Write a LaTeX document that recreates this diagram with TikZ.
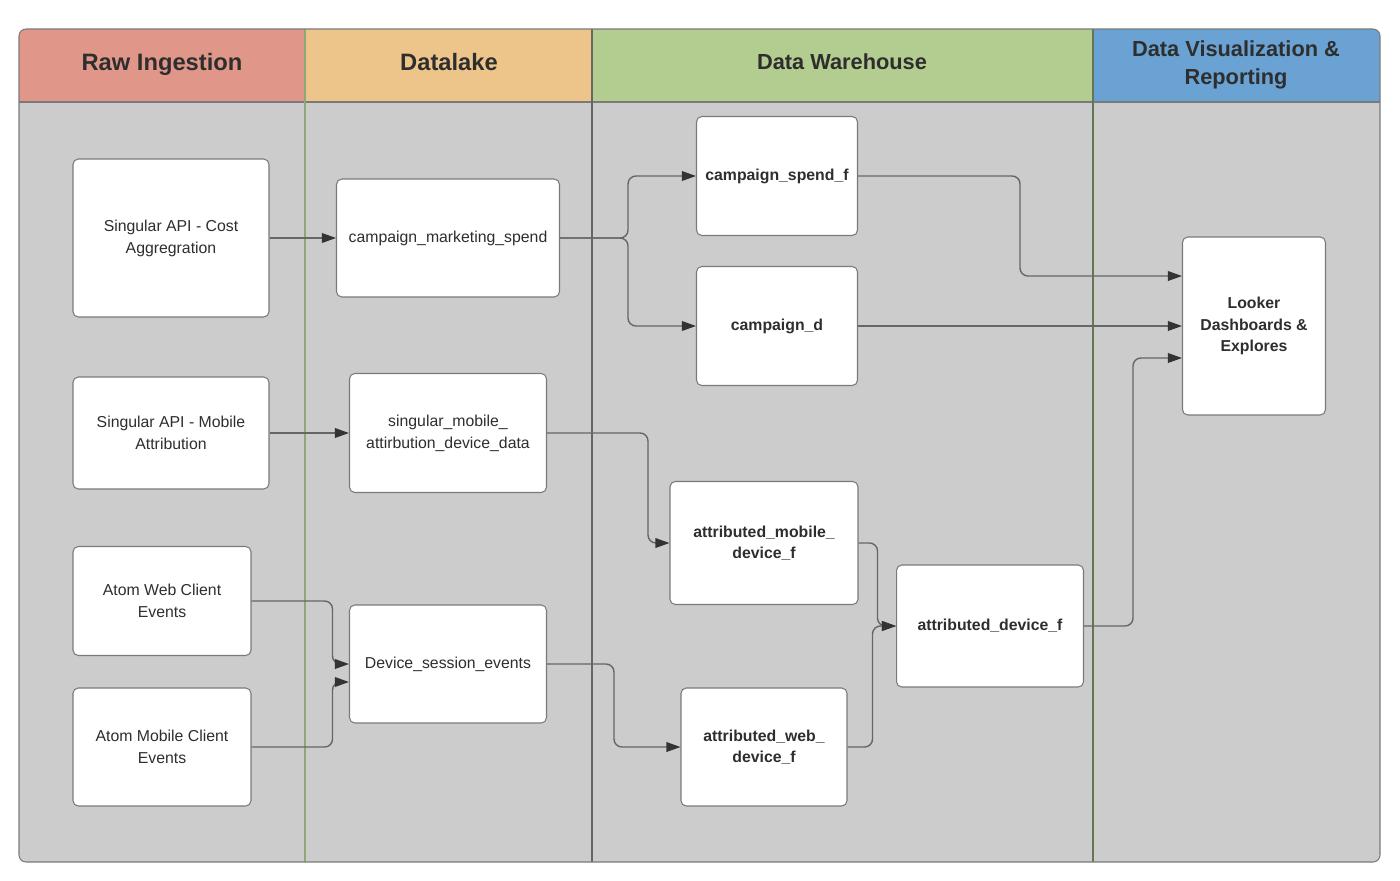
\documentclass[tikz,border=0pt]{standalone}
\usepackage{fontspec}
\setmainfont{Liberation Sans}
\usetikzlibrary{arrows.meta}

\definecolor{rawred}{HTML}{E0978A}
\definecolor{lakeorange}{HTML}{EDC58A}
\definecolor{dwgreen}{HTML}{B3CC90}
\definecolor{visblue}{HTML}{6AA3D3}
\definecolor{lanegray}{HTML}{CCCCCC}
\definecolor{edgegray}{HTML}{666666}
\definecolor{tipdark}{HTML}{333333}
\definecolor{textdark}{HTML}{2E2E2E}
\definecolor{boxline}{HTML}{7A7A7A}
\definecolor{divgreen}{HTML}{8FA878}

\tikzset{
  box/.style={draw=boxline, line width=0.6pt, fill=white, rounded corners=3pt, align=center,
    text=textdark, font=\fontsize{9}{12.5}\selectfont, inner sep=2pt},
  dwbox/.style={box, font=\fontsize{9}{12.2}\selectfont\bfseries},
  lanehead/.style={align=center, text=textdark, font=\fontsize{13.5}{16.4}\selectfont\bfseries},
  flow/.style={draw=edgegray, line width=0.8pt, rounded corners=4.5pt,
    -{Triangle[length=8pt,width=5.5pt,color=tipdark]}}
}

\begin{document}
\begin{tikzpicture}[x=0.02cm, y=-0.02cm]
    \useasboundingbox (0,0) rectangle (1400,880);

    % Swimlane background
    \fill[lanegray, rounded corners=4pt] (19,29) rectangle (1380,862);
    \begin{scope}
    \clip[rounded corners=4pt] (19,29) rectangle (1380,862);
    \fill[rawred] (19,29) rectangle (305,102);
    \fill[lakeorange] (305,29) rectangle (592,102);
    \fill[dwgreen] (592,29) rectangle (1093,102);
    \fill[visblue] (1093,29) rectangle (1380,102);
    \end{scope}

    % Lane dividers
    \draw[boxline, line width=0.6pt] (19,102) -- (1380,102);
    \draw[divgreen, line width=0.6pt] (305,29) -- (305,862);
    \draw[edgegray, line width=0.7pt] (592,29) -- (592,862);
    \draw[divgreen!70!black, line width=0.6pt] (1093,29) -- (1093,862);
    \draw[boxline, line width=0.6pt, rounded corners=4pt] (19,29) rectangle (1380,862);

    % Lane titles
    \node[lanehead] (rawtitle) at (162,64) {Raw Ingestion};
    \node[lanehead] (laketitle) at (449,62) {Datalake};
    \node[lanehead, font=\fontsize{12.4}{16.4}\selectfont\bfseries] (dwtitle) at (842,62) {Data Warehouse};
    \node[lanehead, font=\fontsize{12.4}{16.4}\selectfont\bfseries] (vistitle) at (1236,65) {Data Visualization \&\\Reporting};

    % Raw ingestion sources
    \node[box, minimum width=3.92cm, minimum height=3.16cm] (cost) at (171,238) {Singular API - Cost\\Aggregration};
    \node[box, minimum width=3.92cm, minimum height=2.24cm] (mobattr) at (171,433) {Singular API - Mobile\\Attribution};
    \node[box, minimum width=3.56cm, minimum height=2.18cm] (webev) at (162,601) {Atom Web Client\\Events};
    \node[box, minimum width=3.56cm, minimum height=2.36cm] (mobev) at (162,747) {Atom Mobile Client\\Events};

    % Datalake tables
    \node[box, minimum width=4.46cm, minimum height=2.36cm] (mktspend) at (448,238) {campaign\_marketing\_spend};
    \node[box, minimum width=3.94cm, minimum height=2.38cm] (attrdata) at (448,433) {singular\_mobile\_\\attirbution\_device\_data};
    \node[box, minimum width=3.94cm, minimum height=2.36cm] (sessev) at (448,664) {Device\_session\_events};

    % Warehouse tables
    \node[dwbox, minimum width=3.22cm, minimum height=2.38cm] (spendf) at (777,176) {campaign\_spend\_f};
    \node[dwbox, minimum width=3.22cm, minimum height=2.38cm] (campd) at (777,326) {campaign\_d};
    \node[dwbox, minimum width=3.76cm, minimum height=2.46cm] (mobdevf) at (764,543) {attributed\_mobile\_\\device\_f};
    \node[dwbox, minimum width=3.32cm, minimum height=2.36cm] (webdevf) at (764,747) {attributed\_web\_\\device\_f};
    \node[dwbox, minimum width=3.74cm, minimum height=2.44cm] (devf) at (990,626) {attributed\_device\_f};

    % Reporting
    \node[dwbox, minimum width=2.86cm, minimum height=3.56cm] (looker) at (1254,326) {Looker\\Dashboards \&\\Explores};

    % Ingestion flows
    \draw[flow] (cost.east) -- (mktspend.west);
    \draw[flow] (mobattr.east) -- (attrdata.west);
    \draw[flow] (webev.east) -- ++(81,0) |- (sessev.west);
    \draw[flow] (mobev.east) -- ++(81,0) |- ([yshift=-0.36cm]sessev.west);

    % Datalake to warehouse
    \draw[flow] (mktspend.east) -- ++(68,0) |- (spendf.west);
    \draw[flow] (mktspend.east) -- ++(68,0) |- (campd.west);
    \draw[flow] (attrdata.east) -- ++(101,0) |- (mobdevf.west);
    \draw[flow] (sessev.east) -- ++(67,0) |- (webdevf.west);
    \draw[flow] (mobdevf.east) -- ++(19,0) |- (devf.west);
    \draw[flow] (webdevf.east) -- ++(25,0) |- (devf.west);

    % Warehouse to reporting
    \draw[flow] (spendf.east) -- ++(162,0) |- ([yshift=1cm]looker.west);
    \draw[flow] (campd.east) -- (looker.west);
    \draw[flow] (devf.east) -- ++(49,0) |- ([yshift=-0.64cm]looker.west);
\end{tikzpicture}
\end{document}
